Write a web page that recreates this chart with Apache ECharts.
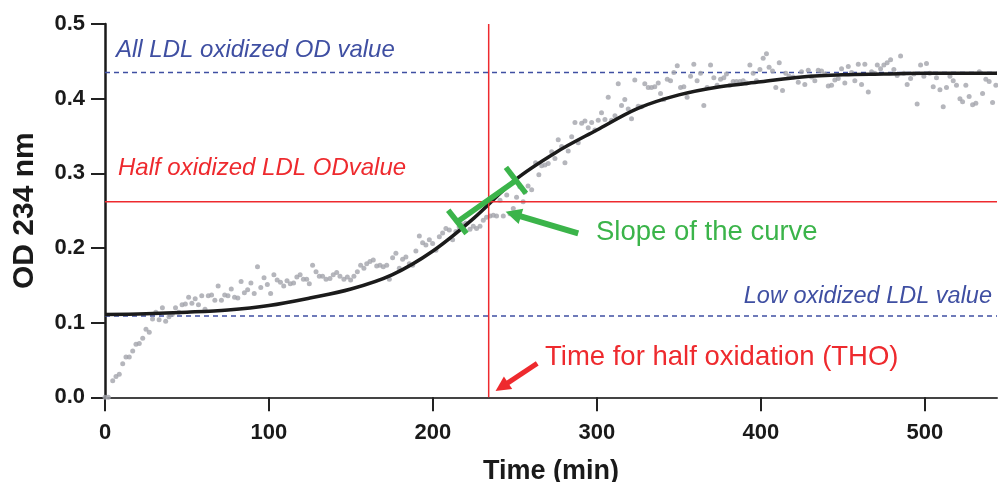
<!DOCTYPE html>
<html><head><meta charset="utf-8">
<script src="https://cdn.jsdelivr.net/npm/echarts@6/dist/echarts.min.js"></script>
<style>html,body{margin:0;padding:0;background:#fff}#c{width:998px;height:482px}</style>
</head><body><div id="c"></div>
<script>
// ---- data ----
const odPoints = [
[0,0],[2,0],[4.7,0.022],[6.7,0.028],[8.7,0.031],[10.8,0.045],[12.8,0.054],[14.8,0.054],[16.9,0.062],[18.9,0.071],
[20.9,0.072],[23,0.079],[25,0.091],[27,0.087],[29,0.105],[31,0.114],[33,0.104],[35,0.120],[37,0.102],[39,0.108],
[41,0.111],[43,0.120],[45,0.114],[47,0.124],[49,0.125],[51,0.134],[53,0.126],[55,0.132],[57,0.124],[59,0.136],
[61,0.118],[63,0.136],[65,0.137],[67,0.130],[69,0.149],[71,0.130],[73,0.137],[75,0.136],[77,0.145],[79,0.134],
[81,0.133],[83,0.155],[85,0.140],[87,0.144],[89,0.153],[91,0.139],[93,0.175],[95,0.147],[97,0.160],[99,0.151],
[101,0.139],[103,0.164],[105,0.157],[107,0.154],[109,0.149],[111,0.156],[113,0.152],[115,0.153],[117,0.161],[119,0.164],
[121,0.158],[123,0.158],[124.6,0.152],[126.6,0.177],[128.7,0.168],[130.7,0.162],[132.7,0.162],[134.8,0.158],
[137.2,0.159],[139.2,0.164],[141.3,0.167],[143.3,0.162],[145.7,0.158],[147.8,0.161],[149.8,0.157],[151.8,0.162],
[153.9,0.168],[155.9,0.177],[157.9,0.173],[159.6,0.179],[161.6,0.182],[163.6,0.184],[165.7,0.176],[167.7,0.177],
[169.7,0.175],[171.8,0.177],[173.4,0.158],[175.4,0.187],[177.4,0.193],[179.5,0.173],[181.5,0.185],[183.5,0.188],
[185.6,0.179],[187.6,0.177],[189.6,0.196],[191.7,0.216],[193.7,0.207],[195.7,0.204],[197.8,0.211],[199.8,0.206],
[201.8,0.197],[203.9,0.215],[205.9,0.220],[207.9,0.226],[210,0.224],[212,0.211],[214,0.222],[216,0.228],
[218,0.231],[220,0.233],[222.6,0.225],[224.6,0.229],[226.6,0.226],[228.7,0.229],[230.7,0.237],[232.7,0.241],
[234.8,0.243],[236.8,0.244],[238.8,0.243],[240.9,0.264],[242.9,0.243],[245,0.271],[247,0.246],[249,0.253],
[251,0.268],[253,0.282],[255,0.262],[256,0.275],[258,0.283],[260.2,0.278],[262.6,0.314],[264.6,0.298],
[266.3,0.310],[268.3,0.311],[270.3,0.313],[272.4,0.329],[274.4,0.320],[276.4,0.345],[278.5,0.336],[280.5,0.314],
[282.5,0.330],[284.6,0.349],[286.6,0.368],[288.6,0.341],[290.7,0.367],[292.7,0.370],[294.7,0.361],[296.8,0.368],
[298.8,0.358],[300.8,0.371],[302.8,0.381],[304.9,0.372],[306.9,0.402],[308.9,0.371],[311,0.377],[313,0.420],
[315,0.391],[317,0.399],[319.1,0.386],[321.1,0.373],[323.1,0.425],[325.2,0.390],[327.2,0.389],[329.2,0.420],
[331.3,0.415],[333.3,0.415],[335.3,0.416],[337.4,0.421],[338.8,0.407],[340.8,0.399],[342.9,0.426],[344.9,0.424],
[346.9,0.435],[349,0.444],[351,0.415],[353,0.416],[355,0.402],[357.1,0.430],[359.1,0.446],[361.1,0.424],
[363.2,0.434],[365.2,0.391],[367.2,0.415],[369.3,0.445],[371.3,0.428],[373.3,0.418],[375.4,0.426],[377.4,0.428],
[379,0.433],[381.1,0.418],[383.1,0.423],[385.1,0.423],[387.2,0.423],[389.2,0.424],[391.2,0.421],[393.3,0.445],
[395.3,0.434],[397.3,0.424],[399.4,0.439],[401.4,0.454],[403.4,0.460],[405,0.442],[407.1,0.437],[409.1,0.415],
[411.2,0.448],[413.2,0.411],[415.2,0.434],[417.2,0.430],[419.7,0.429],[422.8,0.422],[424.8,0.436],[426.8,0.419],
[428.9,0.438],[430.9,0.429],[432.9,0.424],[435,0.438],[437,0.437],[439,0.433],[441.1,0.417],[443.1,0.418],
[445.1,0.425],[447.2,0.427],[449.2,0.440],[451.2,0.421],[453.3,0.443],[455.3,0.435],[457.3,0.424],[459.4,0.446],
[461.4,0.419],[463.4,0.446],[465.5,0.409],[467.5,0.436],[469.5,0.434],[471,0.445],[473,0.440],[475,0.445],
[477,0.448],[479.1,0.452],[481.1,0.439],[483.1,0.431],[485.2,0.457],[487.2,0.434],[489.2,0.419],[491.3,0.427],
[493.3,0.433],[495.3,0.393],[497.4,0.445],[499.4,0.430],[501,0.447],[503,0.434],[505.1,0.416],[507.1,0.428],
[509.2,0.412],[511.2,0.389],[513.2,0.415],[515.3,0.430],[517.3,0.424],[519.3,0.418],[521.4,0.400],[523,0.396],
[525,0.418],[527,0.403],[529.1,0.392],[531.1,0.394],[533.2,0.436],[535.2,0.407],[537.2,0.426],[539.2,0.423],
[541.3,0.395],[543.3,0.418]
];
const fitTime = [0,25,50,75,100,125,150,175,200,225,250,275,300,325,350,375,400,425,450,475,500,544];
const fitOD   = [0.111,0.112,0.114,0.117,0.123,0.133,0.145,0.164,0.196,0.240,0.291,0.328,0.358,0.387,0.405,0.416,0.4225,0.429,0.432,0.433,0.434,0.434];
const xTickValues = [0,100,200,300,400,500];
const timeMax = 544;
const odMax = 0.5;
const allOxOD = 0.435, lowOxOD = 0.109, halfOxOD = 0.262, thoTime = 234;
const slopeLine = [[214.9,0.235],[250.6,0.2905]];
const slopeTickLow = [[209.3,0.2506],[220.5,0.2194]];
const slopeTickHigh = [[244.5,0.3079],[256.7,0.2731]];
const slopeArrow = [[288.6,0.2196],[249,0.2455]];
const thoArrow = [[263.6,0.0455],[242,0.014]];
const texts = {
  allOx: 'All LDL oxidized OD value',
  halfOx: 'Half oxidized LDL ODvalue',
  lowOx: 'Low oxidized LDL value',
  slope: 'Slope of the curve',
  tho: 'Time for half oxidation (THO)'
};

const FF = '"Liberation Sans", Arial, Helvetica, sans-serif';
const BLUE = '#3f4fa2', RED = '#ee2a2e', GREEN = '#3bb44a';
const chart = echarts.init(document.getElementById('c'), null, {renderer:'canvas'});

function seg(data, color, width, type, z) {
  return {type:'line', data, showSymbol:false, symbol:'none', silent:true, z: z||2,
    lineStyle:{color, width, type: type||'solid', cap:'butt'}, animation:false};
}

chart.setOption({
  animation:false,
  backgroundColor:'#fff',
  grid:{left:105, right:1, top:24, bottom:84.7, containLabel:false, outerBoundsMode:'none'},
  xAxis:{type:'value', min:0, max:timeMax, interval:100,
    name:'Time (min)', nameLocation:'middle', nameGap:61,
    nameTextStyle:{fontFamily:FF, fontWeight:'bold', fontSize:27, color:'#1a1a1a'},
    axisLine:{lineStyle:{color:'#444', width:2}},
    axisTick:{length:14, customValues:xTickValues, lineStyle:{color:'#222', width:2}},
    axisLabel:{customValues:xTickValues, margin:25, fontFamily:FF, fontWeight:'bold', fontSize:22, color:'#1a1a1a'},
    splitLine:{show:false}},
  yAxis:{type:'value', min:0, max:odMax, interval:0.1,
    name:'OD 234 nm', nameLocation:'middle', nameGap:65,
    nameTextStyle:{fontFamily:FF, fontWeight:'bold', fontSize:30, color:'#1a1a1a'},
    axisLine:{show:true, lineStyle:{color:'#1a1a1a', width:2.5}},
    axisTick:{show:true, length:14, lineStyle:{color:'#222', width:2}},
    axisLabel:{margin:20, fontFamily:FF, fontWeight:'bold', fontSize:22, color:'#1a1a1a',
      formatter:v=>v.toFixed(1)},
    splitLine:{show:false}},
  series:[
    seg([[0,allOxOD],[timeMax,allOxOD]], BLUE, 1.5, [5,4], 1),
    seg([[0,lowOxOD],[timeMax,lowOxOD]], BLUE, 1.5, [5,4], 1),
    {type:'scatter', data:odPoints, symbolSize:5, itemStyle:{color:'#a2a4ab'}, z:2, silent:true},
    {type:'line', data:fitTime.map((t,i)=>[t,fitOD[i]]), smooth:0.35, showSymbol:false, symbol:'none', z:3,
      lineStyle:{color:'#1b1b1b', width:3.5}},
    seg([[0,halfOxOD],[timeMax,halfOxOD]], RED, 1.5, 'solid', 4),
    seg([[thoTime,0],[thoTime,odMax]], RED, 1.5, 'solid', 4),
    seg(slopeLine, GREEN, 5.5, 'solid', 5),
    seg(slopeTickLow, GREEN, 5.5, 'solid', 5),
    seg(slopeTickHigh, GREEN, 5.5, 'solid', 5),
    {type:'lines', coordinateSystem:'cartesian2d', z:5, silent:true,
      symbol:['none','triangle'], symbolSize:[20,16],
      lineStyle:{width:6, color:GREEN, opacity:1},
      data:[{coords:slopeArrow}]},
    {type:'lines', coordinateSystem:'cartesian2d', z:5, silent:true,
      symbol:['none','triangle'], symbolSize:[18,15],
      lineStyle:{width:5, color:RED, opacity:1},
      data:[{coords:thoArrow}]}
  ],
  graphic:[
    {type:'text', left:116, top:38.5, style:{text:texts.allOx, fontFamily:FF, fontStyle:'italic', fontSize:24, fill:BLUE}},
    {type:'text', left:118, top:156, style:{text:texts.halfOx, fontFamily:FF, fontStyle:'italic', fontSize:24, fill:RED}},
    {type:'text', right:6, top:284.5, style:{text:texts.lowOx, fontFamily:FF, fontStyle:'italic', fontSize:23.5, fill:BLUE}},
    {type:'text', left:596, top:218, style:{text:texts.slope, fontFamily:FF, fontSize:27.5, fill:GREEN}},
    {type:'text', left:545, top:343, style:{text:texts.tho, fontFamily:FF, fontSize:27.5, fill:RED}}
  ]
});
</script></body></html>
